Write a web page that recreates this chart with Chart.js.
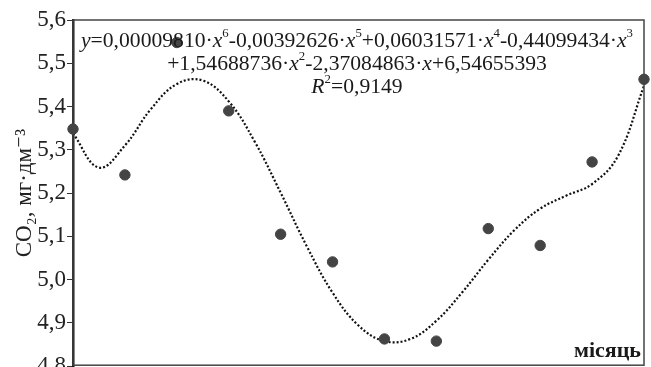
<!DOCTYPE html>
<html>
<head>
<meta charset="utf-8">
<script src="https://cdn.jsdelivr.net/npm/chart.js@4"></script>
<style>
  html, body { margin: 0; padding: 0; background: #fff; overflow: hidden; }
  #wrap { width: 651px; height: 381px; }
</style>
</head>
<body>
<div id="wrap"><canvas id="myChart"></canvas></div>
<script>
// measured CO2 by month
var months = [1, 2, 3, 4, 5, 6, 7, 8, 9, 10, 11, 12];
var co2 = [5.348, 5.242, 5.548, 5.390, 5.105, 5.041, 4.863, 4.858, 5.118, 5.079, 5.272, 5.463];

// trend line (6th order polynomial), read every half month
var trendX = [1, 1.5, 2, 2.5, 3, 3.5, 4, 4.5, 5, 5.5, 6, 6.5, 7, 7.5, 8, 8.5, 9, 9.5, 10, 10.5, 11, 11.5, 12];
var trendY = [5.338, 5.259, 5.310, 5.394, 5.452, 5.460, 5.412, 5.319, 5.201, 5.078, 4.970, 4.894, 4.858,
              4.863, 4.905, 4.971, 5.046, 5.114, 5.164, 5.194, 5.221, 5.286, 5.448];

var yTicks = [4.8, 4.9, 5.0, 5.1, 5.2, 5.3, 5.4, 5.5, 5.6];

var equation = [
  'y=0,00009810·x^6-0,00392626·x^5+0,06031571·x^4-0,44099434·x^3',
  '+1,54688736·x^2-2,37084863·x+6,54655393',
  'R^2=0,9149'
];
var xTitle = 'місяць';
var yTitle = 'CO₂, мг·дм⁻³';

var serif = "'Liberation Serif', 'DejaVu Serif', serif";

// split a line into pieces: italic letters, superscripts, plain text
function pieces(line) {
  var out = [], buf = '';
  for (var i = 0; i < line.length; i++) {
    var c = line[i];
    if (c === '^') {
      if (buf) { out.push({t: buf, k: 'n'}); buf = ''; }
      out.push({t: line[i + 1], k: 's'});
      i++;
    } else if (c === 'x' || c === 'y' || c === 'R') {
      if (buf) { out.push({t: buf, k: 'n'}); buf = ''; }
      out.push({t: c, k: 'i'});
    } else {
      buf += c;
    }
  }
  if (buf) out.push({t: buf, k: 'n'});
  return out;
}

function fontFor(k, size) {
  if (k === 'i') return 'italic ' + size + 'px ' + serif;
  if (k === 's') return Math.round(size * 0.6) + 'px ' + serif;
  return size + 'px ' + serif;
}

var extras = {
  id: 'extras',
  afterDatasetsDraw: function (chart) {
    var ctx = chart.ctx, a = chart.chartArea;
    ctx.save();
    // frame
    ctx.strokeStyle = '#444';
    ctx.lineWidth = 1.5;
    ctx.strokeRect(a.left, a.top, a.right - a.left, a.bottom - a.top - 1);

    // equation
    var size = 22, cx = 357, base = [47, 70, 93], target = 552;
    ctx.fillStyle = '#1a1a1a';
    ctx.textBaseline = 'alphabetic';
    ctx.textAlign = 'left';
    var sx = 1;
    equation.forEach(function (line, li) {
      var ps = pieces(line), w = 0;
      ps.forEach(function (p) { ctx.font = fontFor(p.k, size); p.w = ctx.measureText(p.t).width; w += p.w; });
      if (li === 0) sx = Math.min(1, target / w);
      ctx.save();
      ctx.translate(cx, base[li]);
      ctx.scale(sx, 1);
      var x = -w / 2;
      ps.forEach(function (p) {
        ctx.font = fontFor(p.k, size);
        ctx.fillText(p.t, x, p.k === 's' ? -size * 0.45 : 0);
        x += p.w;
      });
      ctx.restore();
    });

    // x axis title inside the plot
    ctx.font = 'bold 22px ' + serif;
    ctx.textAlign = 'right';
    ctx.fillText(xTitle, a.right - 3, a.bottom - 9);
    ctx.restore();
  }
};

var ctx = document.getElementById('myChart');
var chart = new Chart(ctx, {
  type: 'scatter',
  data: {
    datasets: [{
      label: 'CO2',
      data: months.map(function (m, i) { return {x: m, y: co2[i]}; }),
      backgroundColor: '#444',
      borderColor: '#444',
      pointRadius: 5.2,
      clip: false
    }, {
      label: 'trend',
      type: 'line',
      data: trendX.map(function (t, i) { return {x: t, y: trendY[i]}; }),
      borderColor: '#111',
      borderWidth: 2.2,
      borderDash: [2, 2],
      pointRadius: 0,
      tension: 0.4,
      fill: false
    }]
  },
  options: {
    responsive: true,
    maintainAspectRatio: false,
    animation: false,
    events: [],
    layout: { padding: { top: 20, bottom: 0, right: 7, left: 0 } },
    plugins: { legend: { display: false }, tooltip: { enabled: false } },
    scales: {
      x: { type: 'linear', min: 1, max: 12, display: false },
      y: {
        min: 4.8, max: 5.6,
        afterBuildTicks: function (scale) {
          scale.ticks = yTicks.map(function (v) { return {value: v}; });
        },
        afterFit: function (scale) { scale.width = 73; },
        ticks: {
          color: '#222',
          padding: 1,
          font: { family: serif, size: 23 },
          callback: function (v) { return v.toFixed(1).replace('.', ','); }
        },
        grid: { drawOnChartArea: false, drawTicks: true, tickLength: 6, color: '#333' },
        border: { display: true, color: '#111', width: 2.5 },
        title: {
          display: true,
          text: yTitle,
          color: '#222',
          font: { family: serif, size: 23 },
          padding: { top: 11, bottom: 0 }
        }
      }
    }
  },
  plugins: [extras]
});
</script>
</body>
</html>
